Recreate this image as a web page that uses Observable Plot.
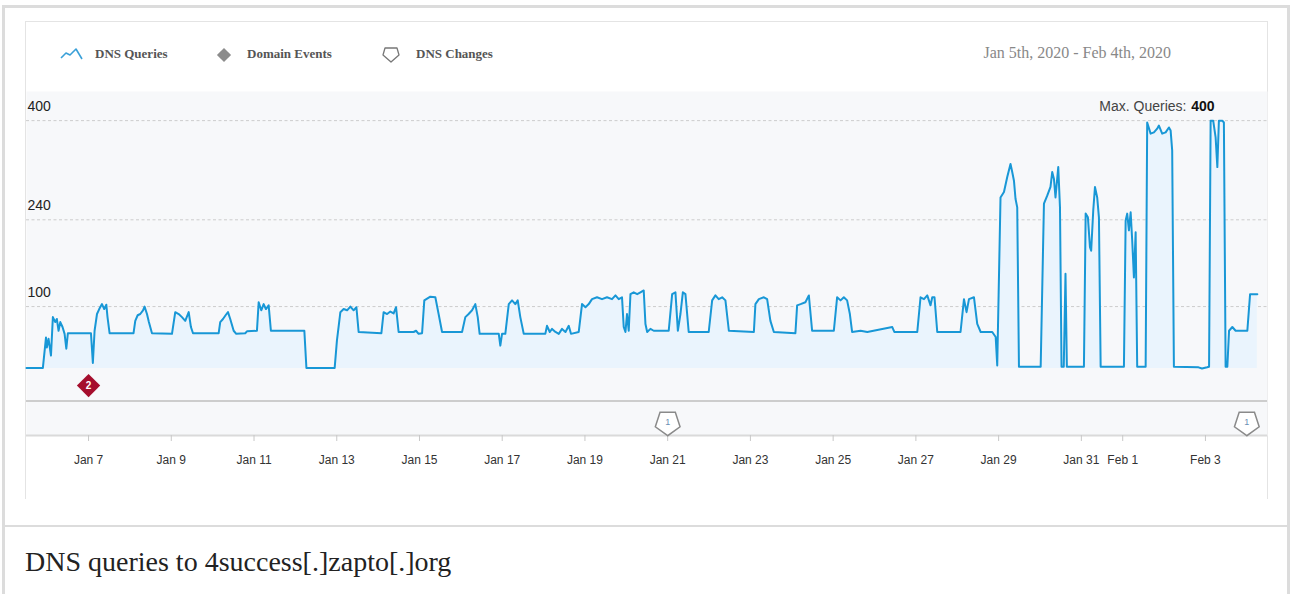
<!DOCTYPE html>
<html><head><meta charset="utf-8">
<script src="https://cdn.jsdelivr.net/npm/d3@7"></script>
<script src="https://cdn.jsdelivr.net/npm/@observablehq/plot@0.6"></script>
<style>
html,body{margin:0;padding:0;background:#fff;width:1290px;height:594px;overflow:hidden;position:relative;}
#frame{position:absolute;left:2px;top:5px;width:1282px;height:640px;border:3px solid #dcdcdc;box-sizing:content-box;}
#panel{position:absolute;left:25px;top:21px;width:1241px;height:477px;border:1px solid #e4e4e4;border-bottom:none;}
#chart{position:absolute;left:26px;top:91px;}
#sep{position:absolute;left:5px;top:525px;width:1282px;height:2px;background:#dcdcdc;}
#caption{position:absolute;left:25px;top:546px;font-family:"Liberation Serif","Times New Roman",serif;font-size:28px;color:#222;white-space:nowrap;}
.leg{position:absolute;top:46px;font-family:"Liberation Serif","Times New Roman",serif;font-size:13px;font-weight:bold;color:#555;line-height:16px;white-space:nowrap;}
.icon{position:absolute;}
#range{position:absolute;right:119px;top:44px;font-family:"Liberation Serif","Times New Roman",serif;font-size:16px;color:#888;white-space:nowrap;}
</style>
</head><body>
<div id="frame"></div>
<div id="panel"></div>
<svg class="icon" style="left:60px;top:47px" width="26" height="14"><polyline points="1,11 6,6 10,8 16,2 22,12" fill="none" stroke="#3aa0d8" stroke-width="1.6" stroke-linejoin="round"/></svg>
<div class="leg" style="left:95px">DNS Queries</div>
<svg class="icon" style="left:215px;top:46px" width="18" height="18"><rect x="4" y="4" width="10" height="10" fill="#8c8c8c" transform="rotate(45 9 9)"/></svg>
<div class="leg" style="left:247px">Domain Events</div>
<svg class="icon" style="left:381px;top:45px" width="20" height="20"><polygon points="4,3 16,3 18,10 10,17 2,10" fill="#fff" stroke="#777" stroke-width="1.3" stroke-linejoin="round"/></svg>
<div class="leg" style="left:416px">DNS Changes</div>
<div id="range">Jan 5th, 2020 - Feb 4th, 2020</div>
<div id="chart"></div>
<div id="sep"></div>
<div id="caption">DNS queries to 4success[.]zapto[.]org</div>
<script>
// ---- data ----
const startDate = "2020-01-05T00:00:00Z";
// hours since Jan 5 00:00 UTC
const hours = [12.0,21.5,23.3,23.8,24.8,26.2,27.3,28.7,29.6,30.6,31.6,32.9,34.1,35.1,36.0,49.4,50.5,51.5,52.9,54.2,55.8,57.1,58.3,59.0,60.2,
74.1,75.1,76.5,78.0,79.6,80.5,81.9,83.0,84.8,96.4,98.3,100.3,102.2,104.1,106.1,107.4,108.6,123.5,124.4,126.0,127.5,128.9,130.2,132.2,133.7,
138.9,139.9,145.7,146.7,148.2,149.6,150.9,152.5,153.8,173.2,174.4,190.8,192.1,194.1,196.0,198.0,199.9,201.8,203.4,204.7,217.9,219.2,221.2,
223.1,225.0,226.4,227.9,236.6,238.0,239.5,241.5,242.8,246.3,249.2,251.1,253.1,264.7,266.6,268.5,270.5,272.4,273.8,274.9,286.0,286.9,287.9,
289.8,291.8,293.7,295.6,297.0,298.5,300.5,313.0,314.0,315.6,316.9,318.9,320.8,322.7,324.7,326.6,327.9,332.4,334.3,336.3,338.2,340.1,343.0,
345.9,348.8,351.7,353.7,355.6,357.5,358.5,359.5,360.4,361.4,362.4,364.3,366.3,368.2,370.1,371.1,372.1,374.0,375.9,384.6,386.6,388.5,389.9,
391.4,392.8,394.3,396.2,407.8,409.8,411.7,413.6,415.6,417.5,419.5,434.0,434.9,436.9,439.8,441.7,443.6,445.6,458.1,459.1,461.1,463.9,465.9,
467.8,480.4,482.3,484.3,486.2,488.1,489.7,491.0,495.9,499.8,514.3,515.5,528.8,530.7,532.7,534.6,536.5,537.5,538.8,540.4,553.9,555.9,557.4,
558.8,561.7,563.6,565.6,572.3,574.3,575.2,577.1,579.1,581.0,582.9,583.9,584.9,585.8,586.8,587.8,600.4,602.3,604.2,606.1,607.1,608.1,609.0,
610.6,611.6,612.5,613.8,614.8,615.6,625.5,626.5,627.8,629.0,629.7,630.9,631.9,633.2,634.2,635.2,648.7,649.7,650.6,651.6,652.6,653.5,654.5,
655.5,656.4,661.3,662.2,664.2,666.1,668.0,669.0,670.9,672.9,674.8,675.8,676.7,677.7,692.0,694.0,697.0,698.1,699.0,700.5,701.9,702.9,703.8,
705.8,706.7,707.7,708.7,709.7,711.6,713.5,720.3,721.9,726.1];
const queries = [1,1,50,34,48,21,83,75,80,61,75,67,56,32,57,57,9,61,88,96,104,96,103,83,57,
57,77,86,88,94,100,88,75,57,56,91,88,83,77,91,67,57,57,75,80,86,91,80,61,56,
57,60,61,107,94,104,96,102,61,61,1,1,45,91,96,94,100,94,99,59,57,91,88,
92,89,99,59,59,61,56,57,110,116,115,88,59,59,83,88,94,104,83,56,56,37,56,
56,104,110,104,110,83,56,56,69,59,64,59,56,64,59,69,56,59,104,99,104,112,115,
112,115,112,118,112,115,67,59,88,61,120,123,120,123,126,72,59,64,61,61,120,123,61,
88,123,120,59,59,110,118,112,115,110,61,59,104,112,115,112,77,59,57,102,104,107,118,
61,61,115,110,115,110,88,59,61,59,67,59,59,115,112,118,102,115,115,59,59,112,91,
112,115,72,59,59,51,5,276,285,309,330,317,303,274,260,3,3,266,279,293,317,306,276,
325,260,3,3,153,3,3,250,244,196,190,255,293,276,244,3,3,239,250,223,252,207,147,
220,3,3,397,379,381,387,392,379,381,389,384,352,3,2,0,2,3,400,400,373,325,400,
400,397,3,3,61,67,61,61,120,120];
const yTicks = [100, 240, 400];
const xTicks = ["2020-01-07","2020-01-09","2020-01-11","2020-01-13","2020-01-15","2020-01-17","2020-01-19",
  "2020-01-21","2020-01-23","2020-01-25","2020-01-27","2020-01-29","2020-01-31","2020-02-01","2020-02-03"];
const xDomain = ["2020-01-05T12:00:00Z", "2020-02-04T12:00:00Z"];
const eventDates = ["2020-01-07"];
const eventCounts = [2];
const changeDates = ["2020-01-21", "2020-02-04"];
const changeCounts = [1, 1];

// ---- build ----
const t0 = new Date(startDate).getTime();
const series = hours.map((h, i) => ({date: new Date(t0 + h * 3600e3), value: queries[i]}));
const events = eventDates.map((d, i) => ({date: new Date(d + "T00:00:00Z"), count: eventCounts[i]}));
const changes = changeDates.map((d, i) => ({date: new Date(d + "T00:00:00Z"), count: changeCounts[i]}));
const maxQ = d3.max(queries);

const bandTop = -52.5, axisRow = -108, eventRow = -27.4, changeRow = -87.4;

const pentagon = {
  draw(ctx, size) {
    const r = Math.sqrt(size / Math.PI);
    for (let i = 0; i < 5; i++) {
      const a = Math.PI / 2 + i * 2 * Math.PI / 5;
      const px = r * Math.cos(a), py = r * Math.sin(a);
      if (i) ctx.lineTo(px, py); else ctx.moveTo(px, py);
    }
    ctx.closePath();
  }
};

const chart = Plot.plot({
  width: 1241, height: 407,
  marginLeft: 0, marginRight: 0, marginTop: 0, marginBottom: 63,
  x: {type: "utc", domain: xDomain.map(d => new Date(d))},
  y: {domain: [axisRow, 447], axis: null},
  style: {fontFamily: "'Liberation Sans', Arial, sans-serif", background: "transparent", overflow: "visible"},
  marks: [
    Plot.frame({fill: "#f7f8fa", stroke: "none"}),
    Plot.ruleY(yTicks, {stroke: "#cccccc", strokeDasharray: "3,2.5", strokeWidth: 1}),
    Plot.areaY(series, {x: "date", y1: 0, y2: "value", fill: "#eaf4fd"}),
    Plot.lineY(series, {x: "date", y: "value", stroke: "#1897d6", strokeWidth: 2, strokeLinejoin: "round"}),
    Plot.ruleY([bandTop], {stroke: "#cdcdcd", strokeWidth: 2}),
    Plot.ruleY([axisRow], {stroke: "#dadada", strokeWidth: 2}),
    Plot.axisX({ticks: xTicks.map(d => new Date(d + "T00:00:00Z")), tickFormat: d3.utcFormat("%b %-d"),
      tickSize: 6, tickPadding: 14, stroke: "#c8c8c8", fill: "#333", fontSize: 12, label: null}),
    Plot.text(yTicks, {y: d => d, text: d => String(d), frameAnchor: "left", textAnchor: "start",
      dx: 1, dy: -14, fontSize: 14, fill: "#222"}),
    Plot.text([maxQ], {y: d => d, text: d => String(d), frameAnchor: "right", textAnchor: "end",
      dx: -53, dy: -14, fontSize: 14, fontWeight: "bold", fill: "#111"}),
    Plot.text([maxQ], {y: d => d, text: () => "Max. Queries:", frameAnchor: "right", textAnchor: "end",
      dx: -81, dy: -14, fontSize: 14, fill: "#444"}),
    Plot.dot(events, {x: "date", y: () => eventRow, symbol: "square", rotate: 45, r: 9.3, fill: "#a50e2d"}),
    Plot.text(events, {x: "date", y: () => eventRow, text: d => String(d.count), fill: "white", fontSize: 10, fontWeight: "bold"}),
    Plot.dot(changes, {x: "date", y: () => changeRow, symbol: pentagon, r: 13, fill: "white", stroke: "#8a8a8a", strokeWidth: 1.5}),
    Plot.text(changes, {x: "date", y: () => changeRow + 1.5, text: d => String(d.count), fill: "#6b8fb5", fontSize: 9})
  ]
});
document.getElementById("chart").appendChild(chart);
</script>
</body></html>
